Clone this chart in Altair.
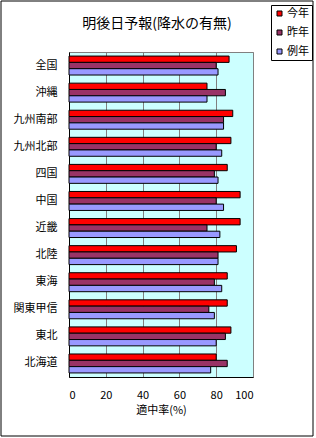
import altair as alt
import pandas as pd

regions = ["全国", "沖縄", "九州南部", "九州北部", "四国", "中国", "近畿", "北陸", "東海", "関東甲信", "東北", "北海道"]
series = ["今年", "昨年", "例年"]
this_year = [87, 75, 89, 88, 86, 93, 93, 91, 86, 86, 88, 80]
last_year = [80, 85, 84, 80, 79, 80, 75, 81, 79, 76, 85, 86]
normal = [81, 75, 84, 83, 81, 84, 82, 81, 83, 79, 80, 77]
colors = ["#FF0000", "#993366", "#9999FF"]
x_ticks = [0, 20, 40, 60, 80, 100]
title_text = "明後日予報(降水の有無)"

rows = []
for i, r in enumerate(regions):
    for s, vals in zip(series, [this_year, last_year, normal]):
        rows.append({"region": r, "series": s, "value": vals[i]})
df = pd.DataFrame(rows)

FONT = "Noto Sans CJK JP"

bars = alt.Chart(df).mark_bar(stroke="black", strokeWidth=1).encode(
    x=alt.X("value:Q", scale=alt.Scale(domain=[0, 100], nice=False),
            axis=alt.Axis(values=x_ticks, grid=True, gridColor="#808080", gridWidth=1,
                          ticks=False, domain=True, domainColor="black",
                          title="適中率(%)", titleFont=FONT, titleFontSize=11,
                          titleFontWeight="normal", titlePadding=4,
                          labelFont=FONT, labelFontSize=11, labelPadding=12,
                          labelColor="black", titleColor="black")),
    y=alt.Y("region:N", sort=regions,
            scale=alt.Scale(paddingInner=0.3, paddingOuter=0.15),
            axis=alt.Axis(title=None, ticks=False, domain=True, domainColor="black",
                          labelFont=FONT, labelFontSize=11, labelPadding=12,
                          labelColor="black")),
    yOffset=alt.YOffset("series:N", sort=series,
                        scale=alt.Scale(paddingInner=0, paddingOuter=0)),
    color=alt.Color("series:N", sort=series,
                    scale=alt.Scale(domain=series, range=colors),
                    legend=alt.Legend(orient="none", legendX=202, legendY=-47,
                                      title=None, strokeColor="black", fillColor="white",
                                      padding=3, symbolType="square", symbolSize=25,
                                      symbolStrokeColor="black", symbolStrokeWidth=1,
                                      labelFont=FONT, labelFontSize=11, rowPadding=7,
                                      labelOffset=2, labelColor="black")),
)

frame = alt.Chart(pd.DataFrame({"a": [0]})).mark_rect(
    fillOpacity=0, stroke="black", strokeWidth=1
).encode(x=alt.value(-68), x2=alt.value(244), y=alt.value(-51), y2=alt.value(384))

title = alt.Chart(pd.DataFrame({"t": [title_text]})).mark_text(
    font=FONT, fontSize=14, color="black", align="center", baseline="middle"
).encode(text="t:N", x=alt.value(88), y=alt.value(-28))

chart = alt.layer(bars, frame, title).properties(
    width=184, height=325,
    autosize=alt.AutoSizeParams(type="none"),
    padding={"left": 69, "top": 52, "right": 63, "bottom": 61},
    background="white",
).configure_view(fill="#CCFFFF", stroke="#808080", strokeWidth=1)

chart.save("out.html", embed_options={"renderer": "svg", "actions": False})
